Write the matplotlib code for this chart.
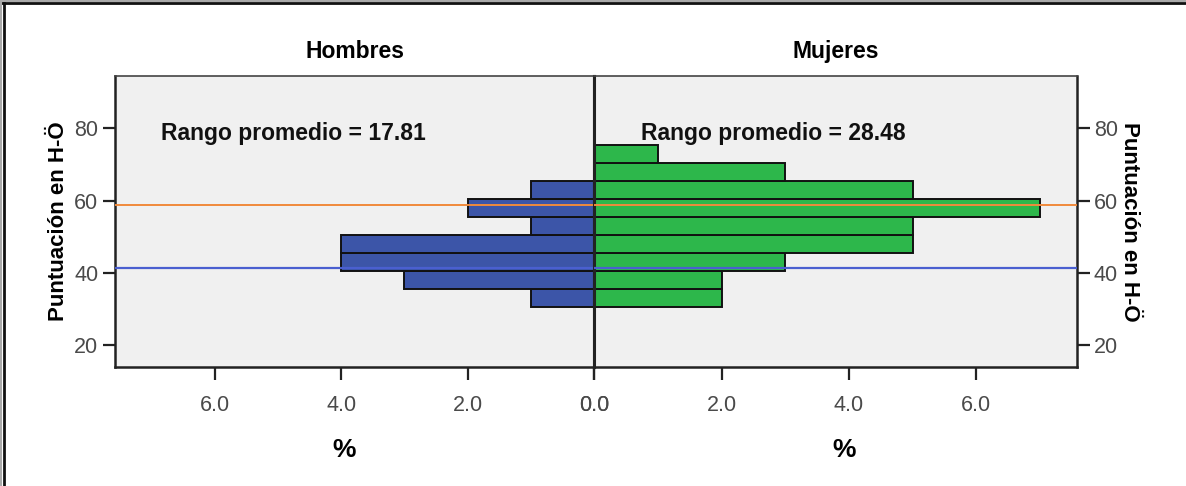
import numpy as np
import matplotlib
matplotlib.use("Agg")
import matplotlib.pyplot as plt
from matplotlib.lines import Line2D

plt.rcParams['font.family'] = ['Liberation Sans', 'DejaVu Sans']

# Puntuación en H-Ö: histogram bins (width 5)
bin_edges = [30.5, 35.5, 40.5, 45.5, 50.5, 55.5, 60.5, 65.5, 70.5, 75.5]
hombres_pct = [1, 3, 4, 4, 1, 2, 1, 0, 0]
mujeres_pct = [2, 2, 3, 5, 5, 7, 5, 3, 1]

rango_hombres = 17.81
rango_mujeres = 28.48
linea_naranja = 58.9
linea_azul = 41.5

x_ticks = [0.0, 2.0, 4.0, 6.0]
y_ticks = [20, 40, 60, 80]
x_max = 7.58
y_lim = (14.0, 94.5)

blue = '#3c55a8'
green = '#2db74b'
panel_bg = '#f0f0f0'
tick_col = '#4a4a4a'

fig = plt.figure(figsize=(11.86, 4.86), dpi=100)
ax_h = fig.add_axes([0.0970, 0.2449, 0.4039, 0.5987])
ax_m = fig.add_axes([0.5009, 0.2449, 0.4073, 0.5987])

edges = np.array(bin_edges)
heights = np.diff(edges)

for ax, vals, color in [(ax_h, hombres_pct, blue), (ax_m, mujeres_pct, green)]:
    ax.set_facecolor(panel_bg)
    ax.barh(edges[:-1], vals, height=heights, align='edge', color=color,
            edgecolor='#111111', linewidth=1.4, zorder=2)
    ax.set_ylim(*y_lim)
    ax.set_xticks(x_ticks)
    ax.set_xticklabels([f"{t:.1f}" for t in x_ticks])
    ax.set_yticks(y_ticks)
    ax.tick_params(axis='both', direction='out', length=9, width=1.6,
                   colors='#222222', labelcolor=tick_col, labelsize=15.5, pad=3)
    ax.tick_params(axis='x', pad=11)
    for s in ax.spines.values():
        s.set_color('#222222')
        s.set_linewidth(1.8)
    ax.spines['top'].set_linewidth(1.2)
    ax.spines['top'].set_color('#444444')
    ax.set_xlabel('%', fontsize=19, fontweight='bold')
    ax.axhline(linea_naranja, color='#f08a3c', linewidth=1.4, zorder=3)
    ax.axhline(linea_azul, color='#4a5fd0', linewidth=1.6, zorder=3)

# Hombres grows to the left
ax_h.set_xlim(x_max, 0)
ax_m.set_xlim(0, x_max)

# "%" labels sit under the 4.0 tick of each panel
ax_h.xaxis.set_label_coords((x_max - 3.95) / x_max, -0.245)
ax_m.xaxis.set_label_coords(3.92 / x_max, -0.245)
ax_h.xaxis.label.set_va('top')
ax_m.xaxis.label.set_va('top')

ax_h.yaxis.set_ticks_position('left')
ax_m.yaxis.set_ticks_position('right')
ax_m.spines['left'].set_linewidth(2.2)
ax_h.spines['right'].set_linewidth(2.2)

ax_h.set_ylabel('Puntuación en H-Ö', fontsize=16, fontweight='bold', labelpad=4)
ax_m.yaxis.set_label_position('right')
ax_m.set_ylabel('Puntuación en H-Ö', fontsize=16, fontweight='bold',
                rotation=-90, labelpad=16)

ax_h.set_title('Hombres', fontsize=16.5, fontweight='bold', pad=13)
ax_m.set_title('Mujeres', fontsize=16.5, fontweight='bold', pad=13)

ax_h.text(6.85, 78.7, f'Rango promedio = {rango_hombres:.2f}', fontsize=16.5,
          fontweight='bold', ha='left', va='center', color='#111111', zorder=4)
ax_m.text(0.74, 78.7, f'Rango promedio = {rango_mujeres:.2f}', fontsize=16.5,
          fontweight='bold', ha='left', va='center', color='#111111', zorder=4)

# outer frame along the top and left edges
fig.add_artist(Line2D([0, 1], [0.9985, 0.9985], color='#aaaaaa', linewidth=1.5,
                      transform=fig.transFigure))
fig.add_artist(Line2D([0, 1], [0.993, 0.993], color='#111111', linewidth=2,
                      transform=fig.transFigure))
fig.add_artist(Line2D([0.0008, 0.0008], [0, 1], color='#aaaaaa', linewidth=1.5,
                      transform=fig.transFigure))
fig.add_artist(Line2D([0.0035, 0.0035], [0, 0.993], color='#111111', linewidth=2,
                      transform=fig.transFigure))

fig.savefig('out.png', dpi=100)
